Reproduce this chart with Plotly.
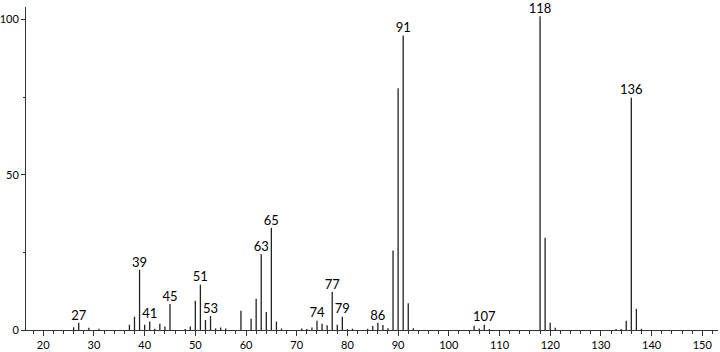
import plotly.graph_objects as go

# m/z values and relative intensities
mz = [26, 27, 29, 31, 37, 38, 39, 40, 41, 42, 43, 44, 45, 48, 49, 50, 51, 52, 53,
      54, 55, 56, 59, 61, 62, 63, 64, 65, 66, 67, 71, 72, 73, 74, 75, 76, 77, 78,
      79, 80, 81, 84, 85, 86, 87, 88, 89, 90, 91, 92, 93, 105, 106, 107, 108,
      118, 119, 120, 121, 133, 134, 135, 136, 137, 138]
intensity = [0.9, 2.3, 0.7, 0.4, 1.7, 4.3, 19.4, 1.7, 2.7, 0.4, 2.0, 1.1, 8.4, 0.3, 1.1,
             9.4, 14.6, 3.2, 4.5, 0.5, 0.8, 0.5, 6.2, 3.6, 10.1, 24.4, 5.8, 32.9, 2.7,
             0.5, 0.5, 0.3, 0.8, 3.0, 2.0, 1.5, 12.3, 1.7, 4.3, 0.3, 0.4, 0.4, 1.3,
             2.3, 1.6, 0.6, 25.6, 77.8, 94.8, 8.6, 0.6, 1.4, 0.5, 1.7, 0.3,
             101.0, 29.7, 2.3, 0.7, 0.3, 0.3, 3.0, 74.8, 6.8, 0.4]

labeled = [27, 39, 41, 45, 51, 53, 63, 65, 74, 77, 79, 86, 91, 107, 118, 136]

x_ticks = [20, 30, 40, 50, 60, 70, 80, 90, 100, 110, 120, 130, 140, 150]
y_ticks = [0, 50, 100]

# build stick segments from the data
xs, ys = [], []
for m, v in zip(mz, intensity):
    xs += [m, m, None]
    ys += [0, v, None]

lab_x = [m for m in labeled]
lab_y = [intensity[mz.index(m)] for m in labeled]
lab_t = [str(m) for m in labeled]

FONT = "Lato"

fig = go.Figure()
fig.add_trace(go.Scatter(x=xs, y=ys, mode="lines",
                         line=dict(color="#222222", width=1.3),
                         hoverinfo="skip", showlegend=False))
fig.add_trace(go.Scatter(x=lab_x, y=lab_y, mode="text", text=lab_t,
                         textposition="top center",
                         textfont=dict(family=FONT, size=13, color="#000000"),
                         hoverinfo="skip", showlegend=False, cliponaxis=False))

fig.update_layout(
    width=720, height=352,
    margin=dict(l=26, r=2, t=7, b=22),
    paper_bgcolor="white", plot_bgcolor="white",
    font=dict(family=FONT, size=12, color="#000000"),
    xaxis=dict(range=[16.6, 153.1], showgrid=False, zeroline=False, automargin=False,
               showline=True, linecolor="#333333", linewidth=1,
               tickmode="array", tickvals=x_ticks, ticktext=[str(t) for t in x_ticks],
               ticks="outside", ticklen=5, tickwidth=1, tickcolor="#333333",
               minor=dict(dtick=2, tick0=0, ticks="outside", ticklen=3,
                          tickcolor="#333333", tickwidth=1),
               tickfont=dict(family=FONT, size=11)),
    yaxis=dict(range=[0, 104], showgrid=False, zeroline=False, automargin=False,
               showline=True, linecolor="#333333", linewidth=1,
               tickmode="array", tickvals=y_ticks, ticktext=[str(t) for t in y_ticks],
               ticks="outside", ticklen=4, tickwidth=1, tickcolor="#333333",
               minor=dict(dtick=25, tick0=0, ticks="outside", ticklen=2,
                          tickcolor="#333333", tickwidth=1),
               tickfont=dict(family=FONT, size=11)),
)

fig.write_html("out.html")
